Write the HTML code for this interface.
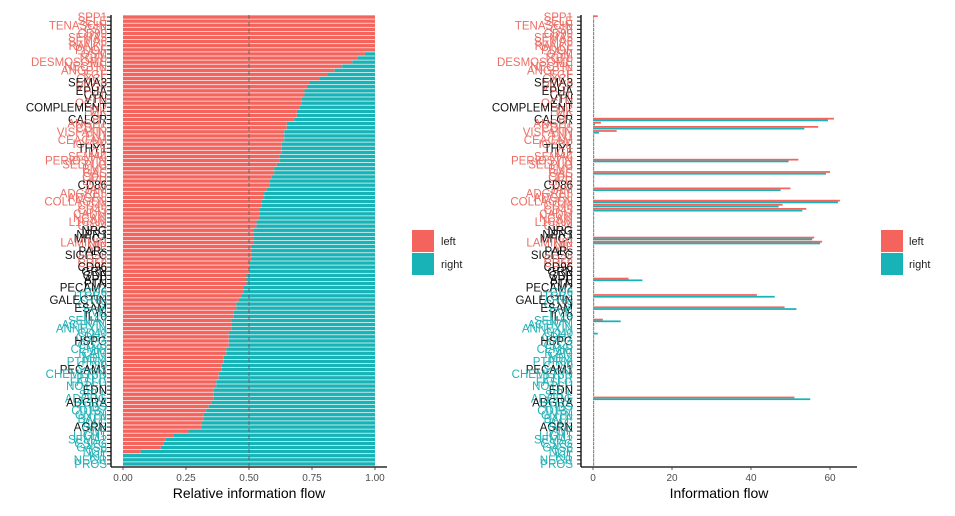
<!DOCTYPE html>
<html><head><meta charset="utf-8"><style>
html,body{margin:0;padding:0;background:#fff;}
svg{display:block;font-family:"Liberation Sans",sans-serif;}
</style></head><body>
<svg id="chart" width="955" height="516" viewBox="0 0 955 516">
<g id="left-panel"></g>
<g id="right-panel"></g>
<g>
<rect x="412" y="230" width="22" height="22" fill="#F4645D"/>
<rect x="412" y="253" width="22" height="22" fill="#17B3B7"/>
<text x="441" y="245" font-size="11" fill="#222">left</text>
<text x="441" y="268" font-size="11" fill="#222">right</text>
</g>
<g>
<rect x="881" y="230" width="22" height="22" fill="#F4645D"/>
<rect x="881" y="253" width="22" height="22" fill="#17B3B7"/>
<text x="909" y="245" font-size="11" fill="#222">left</text>
<text x="909" y="268" font-size="11" fill="#222">right</text>
</g>
</svg>
<script>
const pathways = ["SPP1","SELE","TENASCIN","CSF","CD99","SEMA5","SEMA6","RANKL","PDGF","OSM",
"TGFb","DESMOSOME","NECTIN","ANGPTL","EGF","CXCL","SEMA3","VEGF","EPHA","CCL",
"VTN","OCLN","COMPLEMENT","MK","FGF","CALCR","ANGPT","CDH5","VISFATIN","FN1",
"CEACAM","IGFBP","THY1","IGF","SEMA4","PERIOSTIN","SELPLG","BMP","GAS","CDH",
"LIFR","CD86","JAM","ADGRE5","ADGRL","COLLAGEN","CD46","CD45","CADM","NCAM",
"L1CAM","CD34","NRG","NPR1","MHC-I","LAMININ","MIF","PARs","SIGLEC","CD22",
"CD52","CD96","GRN","GDF","APP","PTN","PECAM2","CD6","ITGB2","GALECTIN",
"CD39","ESAM","PVR","IL10","SEMA7","ACTIVIN","ANNEXIN","CD40","CDH1","HSPG",
"CD23","CEMIP","ICAM","MPZ","PTPRM","CD80","PECAM1","CHEMERIN","PTPR","FASLG",
"NOTCH","EDN","SELL","ADGRG","ADGRA","THBS","CD137","CNTN","BAFF","BAG",
"AGRN","VWF","LIGHT","SEMA2","CSPG","GAS6","NGF","KIT","NEGR","PROS"];
const labelGroup = ["r","r","r","r","r","r","r","r","r","r",
"r","r","r","r","r","r","k","r","k","r",
"k","r","k","r","r","k","r","r","r","r",
"r","r","k","r","r","r","r","r","r","r",
"r","k","r","r","r","r","r","r","r","r",
"r","r","k","k","k","r","r","k","k","r",
"r","k","k","k","k","k","k","t","t","k",
"t","k","t","k","t","t","t","t","t","k",
"t","t","t","t","t","t","k","t","t","t",
"t","k","t","t","k","t","t","t","t","t",
"k","t","t","t","t","t","t","t","t","t"];
const leftShare = [1,1,1,1,1,1,1,1,1,0.96,
0.93,0.91,0.87,0.84,0.81,0.78,0.74,0.73,0.72,0.72,
0.71,0.71,0.70,0.69,0.69,0.68,0.65,0.65,0.64,0.64,
0.64,0.63,0.63,0.63,0.62,0.62,0.61,0.60,0.60,0.59,
0.58,0.58,0.57,0.56,0.56,0.55,0.55,0.54,0.54,0.54,
0.53,0.53,0.52,0.52,0.52,0.52,0.51,0.51,0.51,0.51,
0.50,0.50,0.50,0.49,0.49,0.49,0.48,0.48,0.47,0.46,
0.45,0.45,0.44,0.44,0.43,0.43,0.43,0.42,0.42,0.42,
0.42,0.41,0.41,0.40,0.40,0.39,0.39,0.38,0.38,0.37,
0.37,0.36,0.36,0.36,0.35,0.34,0.33,0.32,0.32,0.31,
0.31,0.26,0.20,0.17,0.16,0.15,0.07,0,0,0];
const leftFlow = [1.2,0.3,0.3,0.3,0.3,0.3,0.3,0.3,0.3,0.3,
0.3,0.3,0.3,0.3,0.3,0.3,0.3,0.3,0.3,0.3,
0.3,0.3,0.3,0.3,0.3,61,2,57,6,0.3,
0.3,0.3,0.3,0.3,0.3,52,0.3,0.3,60,0.3,
0.3,0.3,50,0.3,0.3,62.5,48,54,0.3,0.3,
0.3,0.3,0.3,0.3,56,58,0.3,0.3,0.3,0.3,
0.3,0.3,0.3,0.3,9,0.3,0.3,0.3,41.5,0.3,
0.3,48.5,0.3,0.3,2.5,0.3,0.3,0.3,0.3,0.3,
0.3,0.3,0.3,0.3,0.3,0.3,0.3,0.3,0.3,0.3,
0.3,0.3,0.3,51,0.3,0.3,0.3,0.3,0.3,0.3,
0.3,0.3,0.3,0.3,0.3,0.3,0.3,0.3,0.3,0.3];
const rightFlow = [0.2,0.3,0.3,0.3,0.3,0.3,0.3,0.3,0.3,0.3,
0.3,0.3,0.3,0.3,0.3,0.3,0.3,0.3,0.3,0.3,
0.3,0.3,0.3,0.3,0.3,59.5,0.5,53.5,1.5,0.3,
0.3,0.3,0.3,0.3,0.3,49.5,0.3,0.3,59,0.3,
0.3,0.3,47.5,0.3,0.3,62,47,53,0.3,0.3,
0.3,0.3,0.3,0.3,55.5,57.5,0.3,0.3,0.3,0.3,
0.3,0.3,0.3,0.3,12.5,0.3,0.3,0.3,46,0.3,
0.3,51.5,0.3,0.3,7,0.3,0.3,1.2,0.3,0.3,
0.3,0.3,0.3,0.3,0.3,0.3,0.3,0.3,0.3,0.3,
0.3,0.3,0.3,55,0.3,0.3,0.3,0.3,0.3,0.3,
0.3,0.3,0.3,0.3,0.3,0.3,0.3,0.3,0.3,0.3];
const relTicks = ["0.00","0.25","0.50","0.75","1.00"];
const relTickVals = [0,0.25,0.5,0.75,1];
const absTicks = ["0","20","40","60"];
const absTickVals = [0,20,40,60];

const NS = "http://www.w3.org/2000/svg";
const RED = "#F4645D", TEAL = "#17B3B7";
const TXT = {r:"#EC6F66", k:"#111", t:"#22B2B6"};
const top0 = 15, bot0 = 466;
const n = pathways.length;
const rowH = (bot0 - top0) / n;
function yRow(i){ return top0 + i * rowH; }
function xRel(v){ return 123 + v * 252; }
function xAbs(v){ return 593 + v * (830 - 593) / 60; }
function mk(tag, attrs, parent){
  const e = document.createElementNS(NS, tag);
  for (const k in attrs) e.setAttribute(k, attrs[k]);
  parent.appendChild(e);
  return e;
}

function drawAxes(g, axisX, labelX, xEnd, ticks, tickVals, xf, title, titleX){
  for (let i = 0; i < n; i++){
    const t = mk("text", {x: labelX, y: (yRow(i) + rowH/2 + 4).toFixed(2), "font-size": 11.5, "text-anchor": "end", fill: TXT[labelGroup[i]]}, g);
    
    
    t.textContent = pathways[i];
    const tk = mk("line", {x1: axisX - 4, x2: axisX, y1: yRow(i) + rowH/2, y2: yRow(i) + rowH/2, stroke: "#222", "stroke-width": 1}, g);
    
    
  }
  const ya = mk("line", {x1: axisX, x2: axisX, y1: top0, y2: bot0 + 1, stroke: "#000", "stroke-width": 1.3}, g);
  
  
  const xa = mk("line", {x1: axisX, x2: xEnd, y1: bot0 + 1, y2: bot0 + 1, stroke: "#000", "stroke-width": 1.3}, g);
  
  
  ticks.forEach((lab, j) => {
    const x = xf(tickVals[j]);
    const l = mk("line", {x1: x, x2: x, y1: bot0 + 1, y2: bot0 + 4, stroke: "#333", "stroke-width": 0.8}, g);
    
    
    const t = mk("text", {x: x, y: 481, "font-size": 10, "text-anchor": "middle", fill: "#4d4d4d"}, g);
    
    
    t.textContent = lab;
  });
  const tt = mk("text", {x: titleX, y: 498, "font-size": 14, "text-anchor": "middle", fill: "#000"}, g);
  
  
  tt.textContent = title;
}

const L = document.getElementById("left-panel");
for (let i = 0; i < n; i++){
  const y = yRow(i) + 0.35, h = rowH - 0.7;
  const rr = mk("rect", {x: xRel(0), y: y, width: xRel(leftShare[i]) - xRel(0), height: h, fill: RED}, L);
  
  
  const tr = mk("rect", {x: xRel(leftShare[i]), y: y, width: xRel(1) - xRel(leftShare[i]), height: h, fill: TEAL}, L);
  
  
}
const dl = mk("line", {x1: xRel(0.5), x2: xRel(0.5), y1: top0, y2: bot0, stroke: "#666", "stroke-width": 1, "stroke-dasharray": "4,3"}, L);


drawAxes(L, 111, 107, 387, relTicks, relTickVals, xRel, "Relative information flow", 249);

const R = document.getElementById("right-panel");
for (let i = 0; i < n; i++){
  const y = yRow(i) + 0.3, h = (rowH - 0.6) / 2;
  const rb = mk("rect", {x: xAbs(0), y: y, width: xAbs(leftFlow[i]) - xAbs(0), height: h, fill: RED}, R);
  
  
  const tb = mk("rect", {x: xAbs(0), y: y + h, width: xAbs(rightFlow[i]) - xAbs(0), height: h, fill: TEAL}, R);
  
  
}
drawAxes(R, 581, 573, 857, absTicks, absTickVals, xAbs, "Information flow", 719);
</script>
</body></html>
